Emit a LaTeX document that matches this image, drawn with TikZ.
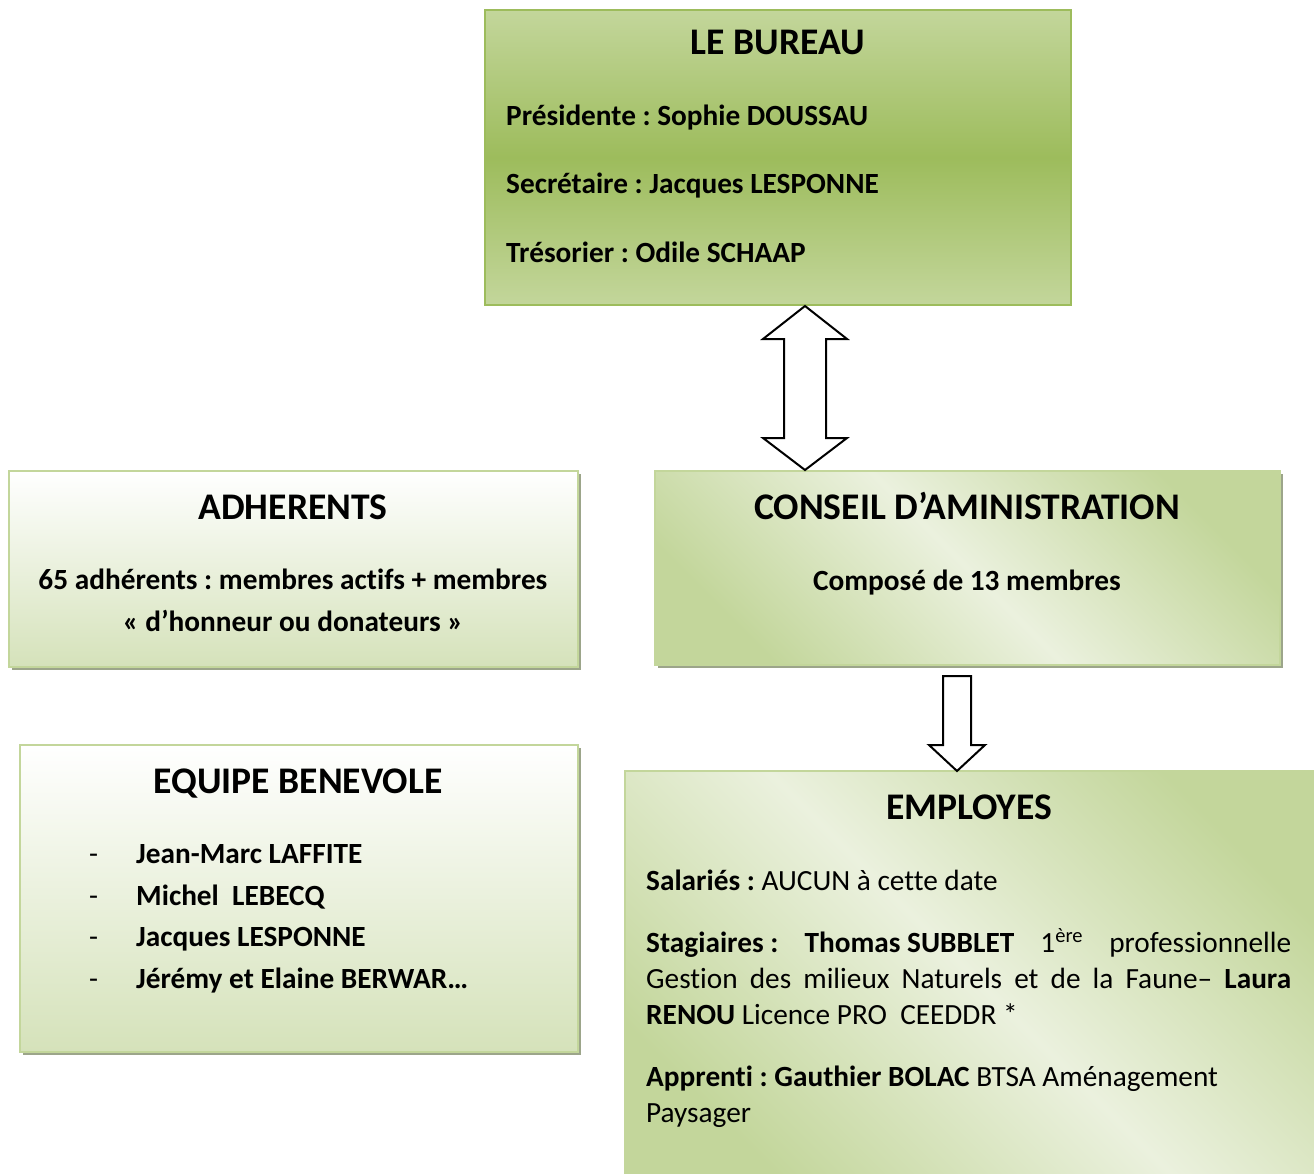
\documentclass[tikz,border=0pt]{standalone}
\usepackage{fontspec}
\setmainfont[Ligatures=NoCommon]{Carlito}
\frenchspacing
\usetikzlibrary{calc,shadows}
\definecolor{gdark}{HTML}{9DBC5C}
\definecolor{gmid}{HTML}{C3D69B}
\definecolor{glight}{HTML}{EBF1DE}
\definecolor{gpale}{HTML}{D5E2BA}
\definecolor{shadowc}{HTML}{9CA58A}
\pgfdeclareverticalshading{bureaushade}{100bp}{color(0bp)=(gmid); color(25bp)=(gmid); color(50bp)=(gdark); color(75bp)=(gmid); color(100bp)=(gmid)}
\pgfdeclarehorizontalshading{diagshade}{100bp}{color(0bp)=(gmid); color(25bp)=(gmid); color(50bp)=(glight); color(75bp)=(gmid); color(100bp)=(gmid)}
\begin{document}
\begin{tikzpicture}[x=1pt,y=-1pt,
  box/.style={draw=gmid, line width=2pt, inner sep=0pt, outer sep=0pt, rectangle},
  shad/.style={drop shadow={shadow xshift=3pt, shadow yshift=-3pt, fill=shadowc, opacity=1}},
  paleshade/.style={top color=white, bottom color=gpale},
  diag/.style={shading=diagshade, shading angle=45},
  ttl/.style={inner sep=0pt, anchor=base, font=\fontsize{37.6}{45}\selectfont\bfseries},
  txt/.style={inner sep=0pt, anchor=base west, font=\fontsize{29.3}{35}\selectfont\bfseries},
  txtc/.style={txt, anchor=base},
  bullet/.style={inner sep=0pt, anchor=base west, font=\fontsize{29.3}{35}\selectfont},
  etxt/.style={inner sep=0pt, anchor=base west, font=\fontsize{29.3}{35}\selectfont},
  blockarrow/.style={draw=black, line width=2pt, fill=white, line join=miter}
]
\useasboundingbox (0,0) rectangle (1314,1174);
\fill[white] (0,0) rectangle (1314,1174);

% boxes
\node[box, draw=gdark, line width=2.5pt, shading=bureaushade, minimum width=586pt, minimum height=295pt] (bureau) at (778,157.5) {};
\node[box, shad, paleshade, minimum width=569pt, minimum height=196pt] (adh) at (293.5,569) {};
\node[box, shad, diag, minimum width=625pt, minimum height=194pt] (conseil) at (967.5,568) {};
\node[box, shad, paleshade, minimum width=558pt, minimum height=307pt] (equipe) at (299,898.5) {};
\node[box, diag, minimum width=705pt, minimum height=419pt] (employes) at (977.5,980.5) {};

% double arrow between bureau and conseil
\coordinate (dt) at (805,306);
\coordinate (db) at (805,470);
\draw[blockarrow] (dt) -- ++(42,33) -- ++(-21,0) -- ++(0,99) -- ++(21,0) -- (db)
  -- ++(-42,-32) -- ++(21,0) -- ++(0,-99) -- ++(-21,0) -- cycle;

% down arrow conseil -> employes
\coordinate (at) at (957,676);
\coordinate (ab) at (957,771);
\draw[blockarrow] ($(at)+(-14,0)$) -- ($(at)+(14,0)$) -- ++(0,69) -- ++(14,0) -- (ab)
  -- ++(-28,-26) -- ++(14,0) -- cycle;

% texts bureau
\node[ttl] (tb) at (778,55) {LE BUREAU};
\node[txt] (tb1) at (506,126) {Présidente : Sophie DOUSSAU};
\node[txt] (tb2) at (506,194) {Secrétaire : Jacques LESPONNE};
\node[txt] (tb3) at (506,262) {Trésorier : Odile SCHAAP};

% adherents
\node[ttl] (ta) at (293,519) {ADHERENTS};
\node[txtc] (ta1) at (293,589) {65 adhérents : membres actifs + membres};
\node[txtc] (ta2) at (293,631) {« d’honneur ou donateurs »};

% conseil
\node[ttl] (tc) at (967,519) {CONSEIL D’AMINISTRATION};
\node[txtc] (tc1) at (967,590) {Composé de 13 membres};

% equipe
\node[ttl] (te) at (298,793) {EQUIPE BENEVOLE};
\node[bullet] (d1) at (89,863) {-};
\node[bullet] (d2) at (89,905) {-};
\node[bullet] (d3) at (89,946) {-};
\node[bullet] (d4) at (89,988) {-};
\node[txt] (e1) at (136,863) {Jean-Marc LAFFITE};
\node[txt] (e2) at (136,905) {Michel\ \ LEBECQ};
\node[txt] (e3) at (136,946) {Jacques LESPONNE};
\node[txt] (e4) at (136,988) {Jérémy et Elaine BERWAR…};

% employes
\node[ttl] (tm) at (969,819) {EMPLOYES};
\node[etxt] (m1) at (646,890) {\textbf{Salariés :} AUCUN à cette date};
\node[etxt] (m2) at (646,952) {\makebox[645pt][s]{\mbox{\textbf{Stagiaires :}} \mbox{\textbf{Thomas SUBBLET}} 1\textsuperscript{ère} professionnelle}};
\node[etxt] (m3) at (646,988) {\makebox[645pt][s]{Gestion des milieux Naturels et de la Faune– \textbf{Laura}}};
\node[etxt] (m4) at (646,1024) {\textbf{RENOU} Licence PRO\ \ CEEDDR *};
\node[etxt] (m5) at (646,1086) {\textbf{Apprenti : Gauthier BOLAC} BTSA Aménagement};
\node[etxt] (m6) at (646,1122) {Paysager};
\end{tikzpicture}
\end{document}
